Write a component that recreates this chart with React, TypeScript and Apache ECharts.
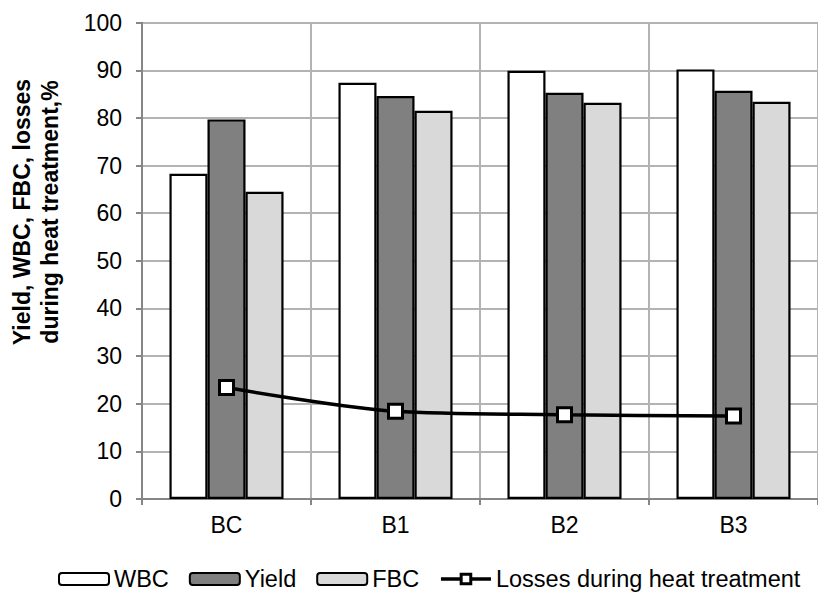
import { useEffect, useRef } from "react";
import * as echarts from "echarts";

const categories = ["BC", "B1", "B2", "B3"];
const wbcValues = [68.3, 87.4, 89.9, 90.2];
const yieldValues = [79.7, 84.6, 85.3, 85.7];
const fbcValues = [64.5, 81.5, 83.2, 83.4];
const lossValues = [23.4, 18.4, 17.7, 17.4];
const seriesNames = ["WBC", "Yield", "FBC", "Losses during heat treatment"];
const yTitle = "Yield, WBC, FBC, losses\nduring heat treatment,%";

const FONT = "'Liberation Sans', Arial, sans-serif";

export default function App() {
  const ref = useRef<HTMLDivElement>(null);
  useEffect(() => {
    const chart = echarts.init(ref.current!, null, { renderer: "svg" });
    const barStyle = (color: string) => ({
      color,
      borderColor: "#000",
      borderWidth: 2.2,
    });
    chart.setOption({
      animation: false,
      backgroundColor: "#fff",
      textStyle: { fontFamily: FONT },
      grid: { left: 142, top: 22.7, width: 682, height: 476.3 },
      legend: {
        left: 53,
        top: 562,
        itemWidth: 50,
        itemHeight: 12,
        itemGap: 20,
        textStyle: { fontSize: 23.5, color: "#000", fontFamily: FONT },
        data: [
          seriesNames[0],
          seriesNames[1],
          seriesNames[2],
          {
            name: seriesNames[3],
            lineStyle: { width: 3.5, color: "#000" },
            itemStyle: { color: "#fff", borderColor: "#000", borderWidth: 3 },
          },
        ],
      },
      graphic: [
        {
          type: "text",
          x: 36,
          y: 212,
          rotation: Math.PI / 2,
          style: {
            text: yTitle,
            fill: "#000",
            font: `bold 23px ${FONT}`,
            lineHeight: 28,
            align: "center",
            verticalAlign: "middle",
          },
        },
      ],
      xAxis: {
        type: "category",
        data: categories,
        boundaryGap: true,
        axisLine: { lineStyle: { color: "#868686", width: 2 } },
        axisTick: { show: true, length: 6, lineStyle: { color: "#868686", width: 2 } },
        axisLabel: { fontSize: 23, color: "#000", margin: 14 },
        splitLine: { show: true, lineStyle: { color: "#b3b3b3", width: 2 } },
      },
      yAxis: {
        type: "value",
        min: 0,
        max: 100,
        interval: 10,
        axisLine: { show: true, lineStyle: { color: "#868686", width: 2 } },
        axisTick: { show: true, length: 6, lineStyle: { color: "#868686", width: 2 } },
        axisLabel: { fontSize: 23, color: "#000", margin: 20 },
        splitLine: { show: true, lineStyle: { color: "#b3b3b3", width: 2 } },
      },
      series: [
        {
          name: seriesNames[0],
          type: "bar",
          data: wbcValues,
          barGap: "0%",
          barCategoryGap: "32.5%",
          itemStyle: barStyle("#ffffff"),
        },
        {
          name: seriesNames[1],
          type: "bar",
          data: yieldValues,
          barGap: "0%",
          barCategoryGap: "32.5%",
          itemStyle: barStyle("#808080"),
        },
        {
          name: seriesNames[2],
          type: "bar",
          data: fbcValues,
          barGap: "0%",
          barCategoryGap: "32.5%",
          itemStyle: barStyle("#d9d9d9"),
        },
        {
          name: seriesNames[3],
          type: "line",
          data: lossValues,
          smooth: 0.3,
          symbol: "rect",
          symbolSize: 14,
          showAllSymbol: true,
          lineStyle: { color: "#000", width: 3.5 },
          itemStyle: { color: "#fff", borderColor: "#000", borderWidth: 3 },
          z: 5,
        },
      ],
    });
    return () => chart.dispose();
  }, []);
  return (
    <div
      ref={ref}
      style={{ position: "fixed", left: 0, top: 0, width: 818, height: 596 }}
    />
  );
}
